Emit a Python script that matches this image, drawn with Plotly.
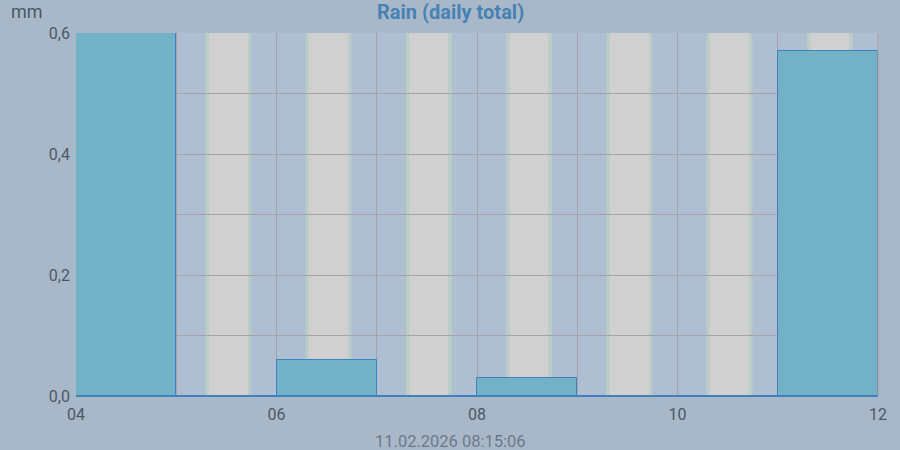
import plotly.graph_objects as go
from datetime import datetime, timedelta

# Data
days = ["2026-02-04", "2026-02-05", "2026-02-06", "2026-02-07",
        "2026-02-08", "2026-02-09", "2026-02-10", "2026-02-11"]
rain_mm = [0.6, 0.0, 0.06, 0.0, 0.03, 0.0, 0.0, 0.57]
daylight_start = ["07:45"] * 8
daylight_end = ["17:10"] * 8
y_title = "mm"
chart_title = "Rain (daily total)"
timestamp = "11.02.2026 08:15:06"

DAY_MS = 86400000

fig = go.Figure()
fig.add_trace(go.Bar(
    x=days, y=rain_mm,
    offset=0, width=[DAY_MS] * len(days),
    marker=dict(color="#72b1c6", line=dict(color="#3f80bf", width=1)),
    hoverinfo="x+y",
))

shapes = []
fringe = timedelta(minutes=45)
for d, s, e in zip(days, daylight_start, daylight_end):
    x0 = datetime.fromisoformat(d + "T" + s)
    x1 = datetime.fromisoformat(d + "T" + e)
    shapes.append(dict(type="rect", xref="x", yref="paper", x0=x0, x1=x1, y0=0, y1=1,
                       fillcolor="#d0d0d0", line=dict(width=0), layer="below"))
    shapes.append(dict(type="rect", xref="x", yref="paper", x0=x0 - fringe, x1=x0, y0=0, y1=1,
                       fillcolor="#bccdc6", line=dict(width=0), layer="below"))
    shapes.append(dict(type="rect", xref="x", yref="paper", x0=x1, x1=x1 + fringe, y0=0, y1=1,
                       fillcolor="#bccdc6", line=dict(width=0), layer="below"))

fig.update_layout(
    width=900, height=450,
    margin=dict(l=76, r=22, t=33, b=54),
    paper_bgcolor="#a9b8c9",
    plot_bgcolor="#aebfd1",
    separators=",.",
    showlegend=False,
    bargap=0,
    font=dict(family="Roboto", size=16, color="#4b5866"),
    shapes=shapes,
    annotations=[
        dict(text="<b>" + chart_title + "</b>", xref="paper", yref="paper", x=0.467, y=(396 - 12) / 363,
             xanchor="center", yanchor="middle", showarrow=False,
             font=dict(family="Roboto", size=20, color="#4682b4")),
        dict(text=y_title, xref="paper", yref="paper", x=-(76 - 9) / 802, y=(396 - 12) / 363,
             xanchor="left", yanchor="middle", showarrow=False,
             font=dict(family="Roboto", size=18, color="#4b5866")),
        dict(text=timestamp, xref="paper", yref="paper", x=0.467, y=-(441 - 396) / 363,
             xanchor="center", yanchor="middle", showarrow=False,
             font=dict(family="Roboto", size=16.5, color="#6c7a88")),
    ],
)
fig.update_xaxes(
    type="date",
    range=["2026-02-04", "2026-02-12"],
    dtick=2 * DAY_MS, tick0="2026-02-04", tickformat="%d",
    showgrid=True, gridcolor="#a3a3ab", gridwidth=1,
    minor=dict(dtick=DAY_MS, showgrid=True, gridcolor="#a3a3ab", gridwidth=1),
    showline=True, linecolor="#3f80bf", linewidth=1,
    ticks="", zeroline=False, ticklabelstandoff=4,
    tickfont=dict(size=16, color="#4b5866"),
)
fig.update_yaxes(
    range=[0, 0.6], dtick=0.2, tick0=0, tickformat=".1f",
    showgrid=True, gridcolor="#a3a3ab", gridwidth=1,
    minor=dict(dtick=0.1, showgrid=True, gridcolor="#a3a3ab", gridwidth=1),
    zeroline=False, showline=False, ticks="", ticklabelstandoff=5,
    tickfont=dict(size=16, color="#4b5866"),
)
fig.add_shape(type="line", xref="paper", yref="paper", x0=1, x1=1, y0=0, y1=1,
              line=dict(color="#a3a3ab", width=1))

fig.write_html("out.html", config={"displayModeBar": False},
               post_script="document.body.style.margin='0';document.body.style.overflow='hidden';")
